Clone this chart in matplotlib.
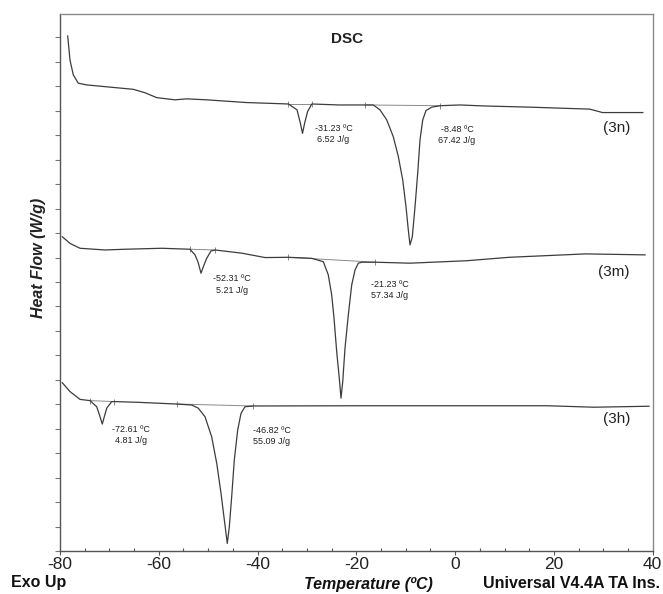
import matplotlib
matplotlib.use("Agg")
import matplotlib.pyplot as plt
import numpy as np

# ---------------- data (temperature in degC, heat flow in arbitrary offset units) ----------------
t_3n = [-78.44, -77.98, -77.31, -76.30, -74.59, -69.88, -65.16, -62.79, -60.42, -56.72, -54.35,
        -50.30, -42.34, -33.74, -32.01, -31.33, -30.90, -30.48, -29.87, -29.02, -23.43, -18.25,
        -16.57, -15.21, -13.85, -12.52, -11.50, -10.61, -9.95, -9.48, -9.14, -8.67, -8.12, -7.58,
        -7.11, -6.56, -5.90, -4.74, -3.06, 0.99, 5.79, 15.22, 27.25, 29.84, 38.0]
hf_3n = [21.06, 20.08, 19.47, 19.13, 19.06, 18.97, 18.88, 18.74, 18.54, 18.45, 18.49,
         18.45, 18.34, 18.28, 18.04, 17.49, 17.08, 17.49, 17.97, 18.28, 18.24, 18.24,
         18.24, 18.04, 17.63, 16.94, 16.13, 15.17, 14.08, 13.13, 12.52, 12.85, 14.08, 15.45,
         16.81, 17.63, 18.01, 18.15, 18.21, 18.24, 18.20, 18.15, 18.07, 17.93, 17.93]

t_3m = [-79.53, -77.98, -75.95, -70.89, -66.84, -59.41, -53.68, -52.67, -52.06, -51.45, -50.84,
        -50.30, -49.43, -48.62, -43.21, -38.49, -33.78, -29.04, -26.69, -25.68, -24.99, -24.52,
        -23.98, -23.45, -23.11, -22.76, -22.30, -21.63, -20.94, -20.27, -19.60, -18.91, -16.22,
        -9.14, 2.34, 10.91, 26.40, 38.45]
hf_3m = [12.85, 12.58, 12.38, 12.31, 12.34, 12.38, 12.34, 12.11, 11.82, 11.36, 11.70,
         11.97, 12.27, 12.31, 12.18, 12.00, 12.01, 11.97, 11.83, 11.29, 10.47, 9.52,
         8.15, 7.06, 6.25, 6.92, 8.29, 9.65, 10.88, 11.49, 11.77, 11.81, 11.81,
         11.77, 11.87, 12.01, 12.15, 12.11]

t_3h = [-79.53, -77.98, -75.95, -73.93, -72.57, -72.00, -71.44, -70.99, -70.54, -69.53, -69.01,
        -64.15, -56.37, -53.33, -52.00, -50.64, -49.29, -48.27, -47.40, -46.73, -46.13, -45.72,
        -45.24, -44.71, -44.02, -43.35, -42.54, -40.86, -19.14, -6.30, 18.66, 28.12, 39.26]
hf_3h = [6.88, 6.52, 6.20, 6.15, 5.90, 5.56, 5.19, 5.52, 5.84, 6.11, 6.11,
         6.08, 6.01, 5.97, 5.84, 5.49, 4.67, 3.59, 2.36, 1.27, 0.31, 0.99,
         2.22, 3.72, 4.95, 5.63, 5.90, 5.93, 5.94, 5.94, 5.94, 5.88, 5.92]

# integration baselines: (T_start, T_end, hf_start, hf_end)
baselines = [
    (-33.74, -29.02, 18.28, 18.28), (-18.25, -3.06, 18.24, 18.21),   # 3n
    (-53.68, -48.62, 12.34, 12.31), (-33.78, -16.22, 12.01, 11.81),  # 3m
    (-73.93, -69.01, 6.15, 6.11), (-56.37, -40.86, 6.01, 5.93),      # 3h
]

# peak annotations: (T, hf, text)
peak_labels = [
    (-24.62, 17.05, "-31.23 \u00baC\n6.52 J/g"),
    (0.38, 17.03, "-8.48 \u00baC\n67.42 J/g"),
    (-45.18, 10.90, "-52.31 \u00baC\n5.21 J/g"),
    (-13.29, 10.67, "-21.23 \u00baC\n57.34 J/g"),
    (-65.62, 4.76, "-72.61 \u00baC\n4.81 J/g"),
    (-37.18, 4.72, "-46.82 \u00baC\n55.09 J/g"),
]
sample_names = ["(3n)", "(3m)", "(3h)"]
sample_hf = [17.30, 11.42, 5.40]
sample_t = 35.4

x_ticks = [-80, -60, -40, -20, 0, 20, 40]
x_ticklabels = ["-80", "-60", "-40", "-20", "0", "20", "40"]

# ---------------- figure ----------------
plt.rcParams['font.family'] = ['Liberation Sans', 'DejaVu Sans']
fig = plt.figure(figsize=(6.63, 5.94), dpi=100)
ax = fig.add_axes([60/663, 1-551/594, (652.7-60)/663, (551-14)/594])

curve_col = '#3c3c3c'
base_col = '#8a8a8a'

for (t0, t1, h0, h1) in baselines:
    ax.plot([t0, t1], [h0, h1], color=base_col, lw=0.7, zorder=2)
    ax.plot([t0, t1], [h0, h1], ls='none', marker='|', ms=4, mew=0.7, color=base_col, zorder=2)

for t, h in [(t_3n, hf_3n), (t_3m, hf_3m), (t_3h, hf_3h)]:
    ax.plot(t, h, color=curve_col, lw=0.9, zorder=3)

ann_font = ['Liberation Sans Narrow', 'Liberation Sans']
for (t, h, s) in peak_labels:
    ax.text(t, h, s, ha='center', va='center', fontsize=6.5, family=ann_font,
            multialignment='center', linespacing=1.3, color='#222222')

for name, h in zip(sample_names, sample_hf):
    ax.text(sample_t, h, name, ha='right', va='center', fontsize=11, color='#222222')

ax.text(-21.79, 20.94, "DSC", ha='center', va='center', fontsize=11, fontweight='bold', color='#222222')

ax.set_xlim(-80, 40)
ax.set_ylim(0, 21.96)
ax.set_xticks(x_ticks)
ax.set_xticklabels(x_ticklabels, fontsize=12.5, color='#222222')
ax.set_xticks(np.arange(-80, 41, 5), minor=True)
ax.set_yticks(np.arange(0, 22, 1))
ax.set_yticklabels([])
ax.tick_params(axis='x', which='major', direction='out', length=3, width=0.8, color='#555555', pad=1.5)
ax.tick_params(axis='x', which='minor', direction='in', length=2.5, width=0.8, color='#555555')
ax.tick_params(axis='y', which='major', direction='out', length=3.5, width=0.8, color='#777777')

for sp in ['left', 'bottom']:
    ax.spines[sp].set_color('#555555')
    ax.spines[sp].set_linewidth(1.0)
for sp in ['top', 'right']:
    ax.spines[sp].set_color('#8a8a8a')
    ax.spines[sp].set_linewidth(1.0)

fig.text(39/663, 1-258/594, "Heat Flow (W/g)", rotation=90, ha='center', va='center',
         fontsize=11.5, fontweight='bold', fontstyle='italic', color='#222222')
fig.text(11/663, 1-582/594, "Exo Up", ha='left', va='center', fontsize=11.5,
         fontweight='bold', color='#111111')
fig.text(368/663, 1-584/594, "Temperature (\u00baC)", ha='center', va='center', fontsize=11.5,
         fontweight='bold', fontstyle='italic', color='#111111')
fig.text(660/663, 1-583/594, "Universal V4.4A TA Ins.", ha='right', va='center', fontsize=11.5,
         fontweight='bold', color='#111111')

fig.savefig("out.png", dpi=100)
